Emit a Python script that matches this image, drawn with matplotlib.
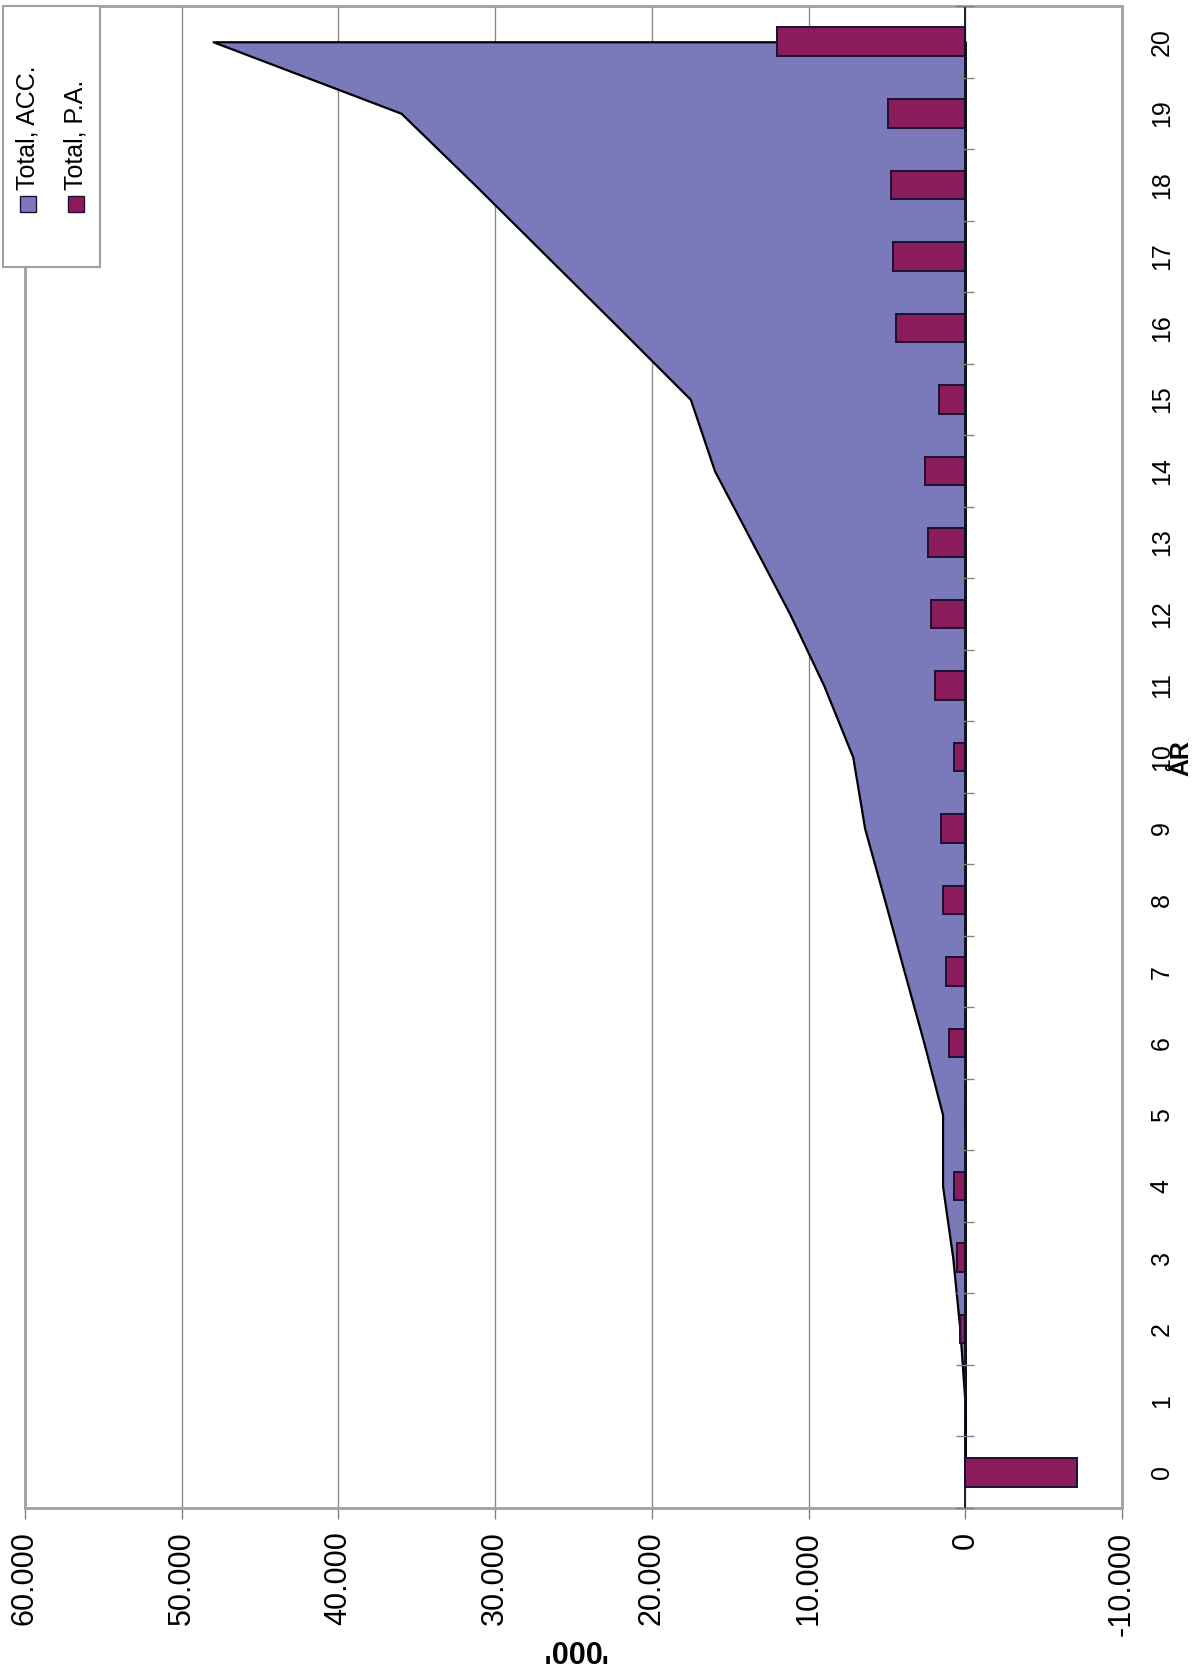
import matplotlib.pyplot as plt
import matplotlib.patches as mpatches
import numpy as np

plt.rcParams['font.family'] = ['Liberation Sans', 'DejaVu Sans']

# ------------------------------
# Data
# ------------------------------
years = list(range(0, 21))
total_acc = [0, 30, 350, 800, 1450, 1450, 2640, 3900, 5150, 6420, 7180,
             9030, 11200, 13600, 16000, 17540, 22100, 26700, 31300, 36000, 48000]
total_pa = [-7100, 0, 350, 530, 720, 0, 1040, 1250, 1420, 1570, 710,
            1950, 2160, 2370, 2590, 1650, 4390, 4600, 4750, 4940, 12000]

value_ticks = [60000, 50000, 40000, 30000, 20000, 10000, 0, -10000]
value_labels = ['60.000', '50.000', '40.000', '30.000', '20.000', '10.000', '0', '-10.000']
legend_labels = ['Total, ACC.', 'Total, P.A.']

area_color = '#7a7aba'
bar_color = '#8a1c5c'

W, H = 1196, 1672
fig = plt.figure(figsize=(W / 100, H / 100), dpi=100)

# plot area in pixels: x 25..1122, y 6..1508
ax = fig.add_axes([25 / W, 1 - 1508 / H, (1122 - 25) / W, (1508 - 6) / H])

# vertical gridlines
ax.set_xlim(60000, -10000)
ax.set_ylim(-0.5, 20.5)
ax.set_xticks(value_ticks)
ax.set_xticklabels(value_labels, rotation=90, fontsize=22)
ax.xaxis.grid(True, color='#8a8a8a', linewidth=1)
ax.set_axisbelow(True)

# accumulated total as area
ax.fill_betweenx(years, 0, total_acc, facecolor=area_color, edgecolor='black',
                 linewidth=1.6, zorder=2)

# yearly total as bars
ax.barh(years, total_pa, height=0.4, color=bar_color, edgecolor='#1e0f33',
        linewidth=1.4, zorder=3)

# category axis line at zero, with tick marks between categories
ax.axvline(0, color='#101030', linewidth=1.3, zorder=4)
bounds = np.arange(-0.5, len(years), 1.0)
ax.plot(np.zeros(len(bounds)), bounds, linestyle='none', marker='_',
        markersize=13, markeredgewidth=1, color='#808080', zorder=4, clip_on=False)

# category labels on the right side
ax.set_yticks(years)
ax.set_yticklabels([str(y) for y in years], rotation=90, fontsize=18)
ax.yaxis.tick_right()
ax.tick_params(axis='y', length=0, pad=20)
ax.tick_params(axis='x', length=8, width=1, color='#808080', pad=9)
for lab in ax.get_yticklabels():
    lab.set_verticalalignment('center')

for sp in ax.spines.values():
    sp.set_color('#a0a0a0')
    sp.set_linewidth(2)

# axis titles
fig.text(1181 / W, 1 - 758 / H, 'ÅR', rotation=90, fontsize=18,
         fontweight='bold', ha='center', va='center')
fig.text(573 / W, 1 - 1648 / H, "'000'", rotation=180, fontsize=22,
         fontweight='bold', ha='center', va='center')

# legend (rotated like the rest of the chart)
fig.add_artist(mpatches.Rectangle((3 / W, 1 - 267 / H), 97 / W, 261 / H,
                                  transform=fig.transFigure, facecolor='white',
                                  edgecolor='#a0a0a0', linewidth=1.5, zorder=5))
for xc, lab, col in zip([28, 76], legend_labels, [area_color, bar_color]):
    fig.add_artist(mpatches.Rectangle(((xc - 8) / W, 1 - 212 / H), 16 / W, 16 / H,
                                      transform=fig.transFigure, facecolor=col,
                                      edgecolor='#1e0f33', linewidth=1, zorder=6))
    fig.text(xc / W, 1 - 190 / H, lab, rotation=90, fontsize=18,
             ha='center', va='bottom', zorder=7)

fig.savefig('out.png', dpi=100)
